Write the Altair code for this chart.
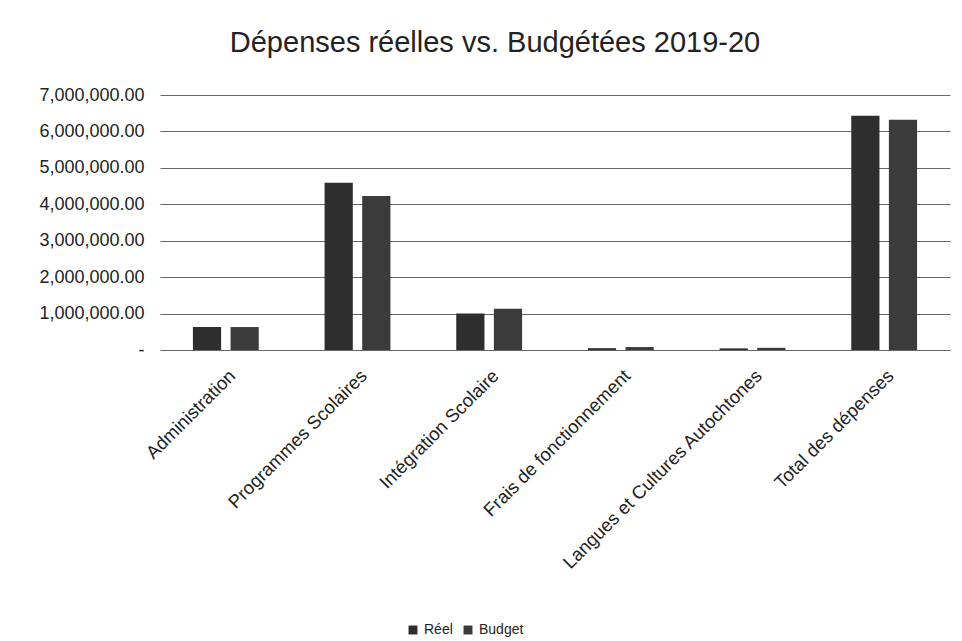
import altair as alt
import pandas as pd

categories = ["Administration", "Programmes Scolaires", "Intégration Scolaire",
              "Frais de fonctionnement", "Langues et Cultures Autochtones", "Total des dépenses"]
reel = [630000, 4590000, 1000000, 50000, 45000, 6430000]
budget = [630000, 4230000, 1130000, 80000, 60000, 6320000]
series = ["Réel", "Budget"]
colors = ["#2e2e2e", "#3b3b3b"]

rows = []
for c, r, b in zip(categories, reel, budget):
    rows.append({"cat": c, "serie": "Réel", "val": r})
    rows.append({"cat": c, "serie": "Budget", "val": b})
df = pd.DataFrame(rows)

FONT = "Liberation Sans"

chart = alt.Chart(df).mark_bar().encode(
    x=alt.X("cat:N", sort=categories, title=None,
            scale=alt.Scale(paddingInner=0.5, paddingOuter=0.25),
            axis=alt.Axis(labelAngle=-45, labelFontSize=18.5, labelFont=FONT, labelColor="#222",
                          ticks=False, domain=False, labelPadding=16, labelLimit=400)),
    xOffset=alt.XOffset("serie:N", sort=series, scale=alt.Scale(paddingInner=0.25)),
    y=alt.Y("val:Q", title=None,
            scale=alt.Scale(domain=[0, 7000000], nice=False),
            axis=alt.Axis(values=[0, 1000000, 2000000, 3000000, 4000000, 5000000, 6000000, 7000000],
                          labelExpr="datum.value == 0 ? '-' : format(datum.value, ',.2f')",
                          labelFontSize=18, labelFont=FONT, labelColor="#222",
                          ticks=False, domain=False, labelPadding=16,
                          grid=True, gridColor="#666", gridWidth=1)),
    color=alt.Color("serie:N", sort=series,
                    scale=alt.Scale(domain=series, range=colors),
                    legend=alt.Legend(title=None, orient="none", direction="horizontal",
                                      legendX=246, legendY=528, symbolType="square",
                                      symbolSize=80, labelFontSize=14, labelFont=FONT,
                                      labelColor="#222", columnPadding=8, labelOffset=4)),
).properties(
    width=790, height=255,
    title=alt.TitleParams("Dépenses réelles vs. Budgétées 2019-20", fontSize=29, font=FONT,
                          fontWeight="normal", color="#222", dx=-60, offset=28),
    padding={"left": 152, "top": 87, "right": 2, "bottom": 300},
    autosize=alt.AutoSizeParams(type="none"),
).configure_view(stroke=None)

chart.save("out.html", embed_options={"renderer": "svg", "actions": False})
